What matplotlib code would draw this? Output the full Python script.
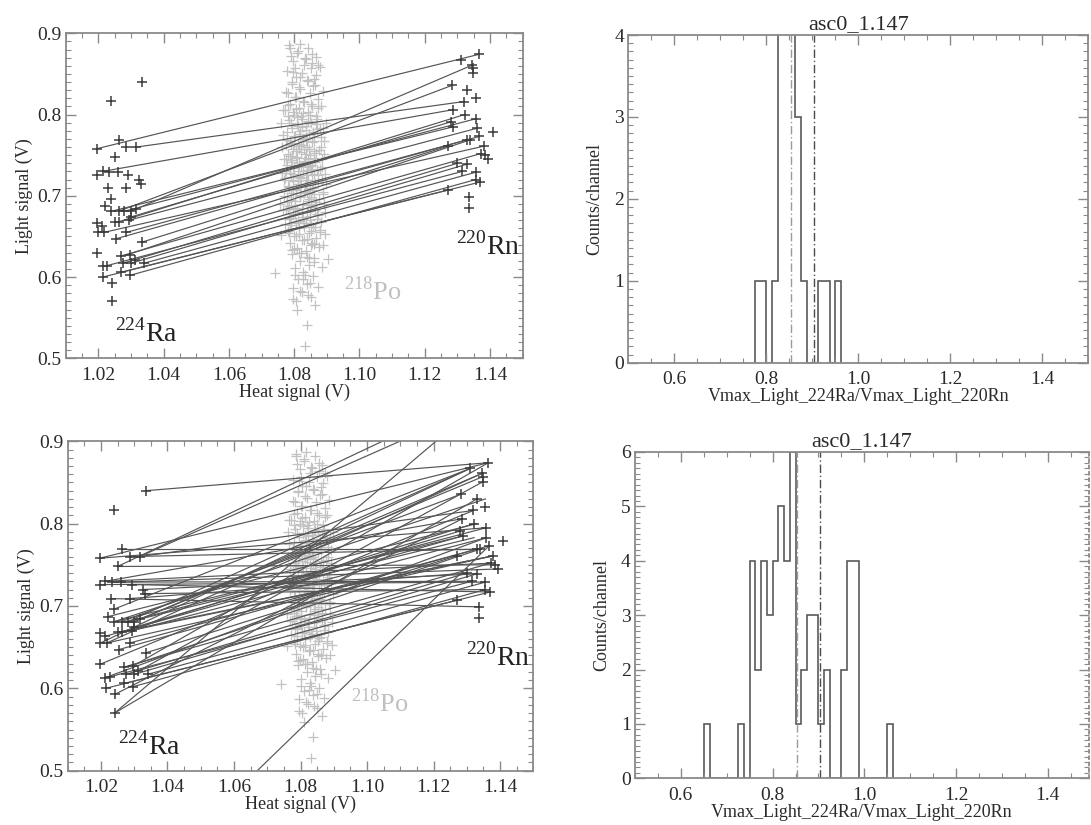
import numpy as np
import matplotlib
matplotlib.use("Agg")
import matplotlib.pyplot as plt
from matplotlib.ticker import MultipleLocator, FormatStrFormatter

plt.rcParams['font.family'] = ['Liberation Serif', 'DejaVu Serif']
plt.rcParams['mathtext.fontset'] = 'custom'
plt.rcParams['mathtext.rm'] = 'Liberation Serif'

# ---------------- data ----------------
# 224Ra events (dark crosses, left)
ra_x = [1.0334, 1.0238, 1.0196, 1.0262, 1.0250, 1.0286, 1.0316, 1.0196, 1.0213, 1.0233,
        1.0261, 1.0292, 1.0230, 1.0286, 1.0326, 1.0332, 1.0238, 1.0220, 1.0240, 1.0262,
        1.0280, 1.0300, 1.0316, 1.0250, 1.0262, 1.0300, 1.0294, 1.0196, 1.0211, 1.0198,
        1.0217, 1.0253, 1.0286, 1.0334, 1.0196, 1.0270, 1.0296, 1.0275, 1.0300, 1.0312,
        1.0340, 1.0213, 1.0226, 1.0214, 1.0270, 1.0296, 1.0243, 1.0241]
ra_y = [0.840, 0.817, 0.758, 0.769, 0.748, 0.760, 0.760, 0.726, 0.730, 0.729,
        0.729, 0.726, 0.709, 0.709, 0.720, 0.715, 0.696, 0.687, 0.681, 0.681,
        0.681, 0.681, 0.684, 0.668, 0.668, 0.674, 0.670, 0.667, 0.663, 0.655,
        0.655, 0.647, 0.655, 0.643, 0.629, 0.626, 0.627, 0.617, 0.617, 0.621,
        0.617, 0.613, 0.614, 0.600, 0.606, 0.602, 0.593, 0.570]

# 220Rn events (dark crosses, right)
rn_x = [1.1365, 1.1310, 1.1346, 1.1348, 1.1349, 1.1284, 1.1330, 1.1356, 1.1320, 1.1287,
        1.1322, 1.1280, 1.1288, 1.1358, 1.1359, 1.1410, 1.1367, 1.1330, 1.1340, 1.1380,
        1.1385, 1.1395, 1.1372, 1.1270, 1.1300, 1.1330, 1.1315, 1.1356, 1.1270, 1.1356,
        1.1370, 1.1337, 1.1337]
rn_y = [0.874, 0.867, 0.861, 0.857, 0.851, 0.836, 0.830, 0.820, 0.816, 0.806,
        0.800, 0.791, 0.785, 0.795, 0.783, 0.779, 0.773, 0.769, 0.769, 0.761,
        0.750, 0.745, 0.752, 0.761, 0.740, 0.739, 0.730, 0.729, 0.707, 0.720,
        0.717, 0.699, 0.685]

# 218Po events (light grey crosses, centre)
po_x = [1.0785, 1.0812, 1.0843, 1.0866, 1.0797, 1.0829, 1.0851, 1.0778, 1.0868, 1.0806,
        1.0838, 1.0792, 1.0859, 1.0819, 1.0776, 1.0847, 1.0803, 1.0874, 1.0831, 1.0788,
        1.0856, 1.0815, 1.0772, 1.0841, 1.0798, 1.0867, 1.0824, 1.0783, 1.0852, 1.0809,
        1.0835, 1.0794, 1.0871, 1.0818, 1.0779, 1.0846, 1.0802, 1.0862, 1.0827, 1.0786,
        1.0853, 1.0811, 1.0775, 1.0839, 1.0796, 1.0876, 1.0821, 1.0782, 1.0848, 1.0805,
        1.0832, 1.0791, 1.0864, 1.0816, 1.0777, 1.0843, 1.0800, 1.0869, 1.0826, 1.0787,
        1.0855, 1.0813, 1.0773, 1.0838, 1.0795, 1.0872, 1.0822, 1.0781, 1.0849, 1.0807,
        1.0834, 1.0790, 1.0861, 1.0817, 1.0779, 1.0845, 1.0801, 1.0866, 1.0828, 1.0785,
        1.0851, 1.0810, 1.0774, 1.0840, 1.0797, 1.0873, 1.0823, 1.0783, 1.0847, 1.0804,
        1.0831, 1.0789, 1.0863, 1.0815, 1.0780, 1.0844, 1.0799, 1.0868, 1.0825, 1.0786,
        1.0852, 1.0808, 1.0836, 1.0793, 1.0860, 1.0819, 1.0845, 1.0801, 1.0828, 1.0857,
        1.0812, 1.0839, 1.0796, 1.0824, 1.0850, 1.0806, 1.0742, 1.0905, 1.0838, 1.0833,
        1.0808, 1.0842, 1.0823, 1.0858, 1.0799, 1.0836, 1.0815, 1.0861, 1.0793, 1.0829,
        1.0847, 1.0811, 1.0872, 1.0795, 1.0833, 1.0856, 1.0818, 1.0789, 1.0842, 1.0865,
        1.0803, 1.0826, 1.0851, 1.0788, 1.0814, 1.0839, 1.0862, 1.0798, 1.0821, 1.0846,
        1.0817, 1.0855, 1.0789, 1.0836, 1.0873, 1.0801, 1.0825, 1.0861, 1.0792, 1.0814,
        1.0883, 1.0887, 1.0885, 1.0882, 1.0879, 1.0768, 1.0770, 1.0765, 1.0888, 1.0890,
        1.0884, 1.0891, 1.0878, 1.0769, 1.0772, 1.0766, 1.0881, 1.0895, 1.0758, 1.0897,
        1.0830, 1.0820, 1.0835, 1.0812, 1.0843, 1.0806, 1.0827, 1.0850, 1.0818, 1.0840,
        1.0781, 1.0804, 1.0826, 1.0849, 1.0871, 1.0790, 1.0813, 1.0837, 1.0859, 1.0882,
        1.0777, 1.0800, 1.0822, 1.0845, 1.0868, 1.0786, 1.0809, 1.0833, 1.0856, 1.0879,
        1.0774, 1.0797, 1.0819, 1.0842, 1.0864, 1.0783, 1.0806, 1.0829, 1.0852, 1.0875,
        1.0779, 1.0802, 1.0825, 1.0848, 1.0870, 1.0788, 1.0811, 1.0835, 1.0857, 1.0880,
        1.0784, 1.0807, 1.0830, 1.0853, 1.0876, 1.0792, 1.0815, 1.0838, 1.0861, 1.0884,
        1.0803, 1.0826, 1.0849, 1.0872, 1.0818, 1.0841, 1.0795, 1.0864, 1.0810, 1.0833,
        1.0787, 1.0810, 1.0833, 1.0856, 1.0879, 1.0795, 1.0818, 1.0841, 1.0864, 1.0887,
        1.0782, 1.0805, 1.0828, 1.0851, 1.0874, 1.0797, 1.0820, 1.0843, 1.0866, 1.0889,
        1.0816, 1.0839, 1.0862, 1.0791, 1.0814, 1.0837, 1.0860, 1.0793, 1.0816, 1.0839,
        1.0862, 1.0789, 1.0812, 1.0835, 1.0858, 1.0795, 1.0818, 1.0841, 1.0864, 1.0801,
        1.0824, 1.0847, 1.0870, 1.0806, 1.0829, 1.0852, 1.0780, 1.0776, 1.0781, 1.0886,
        1.0892, 1.0893, 1.0889, 1.0762, 1.0764, 1.0767, 1.0894, 1.0761, 1.0898, 1.0760]
po_y = [0.885, 0.878, 0.882, 0.871, 0.866, 0.861, 0.857, 0.853, 0.849, 0.846,
        0.842, 0.838, 0.835, 0.831, 0.828, 0.826, 0.822, 0.819, 0.816, 0.813,
        0.811, 0.808, 0.805, 0.803, 0.800, 0.798, 0.795, 0.793, 0.790, 0.788,
        0.786, 0.784, 0.782, 0.780, 0.778, 0.776, 0.774, 0.772, 0.770, 0.768,
        0.766, 0.764, 0.762, 0.760, 0.758, 0.756, 0.754, 0.752, 0.750, 0.748,
        0.746, 0.744, 0.742, 0.740, 0.738, 0.736, 0.734, 0.732, 0.730, 0.728,
        0.726, 0.724, 0.722, 0.720, 0.718, 0.716, 0.714, 0.712, 0.710, 0.708,
        0.706, 0.704, 0.702, 0.700, 0.698, 0.696, 0.694, 0.692, 0.690, 0.688,
        0.686, 0.684, 0.682, 0.680, 0.678, 0.676, 0.674, 0.672, 0.670, 0.668,
        0.666, 0.664, 0.662, 0.660, 0.657, 0.654, 0.651, 0.648, 0.645, 0.642,
        0.639, 0.636, 0.632, 0.628, 0.624, 0.620, 0.615, 0.611, 0.606, 0.601,
        0.597, 0.592, 0.587, 0.581, 0.576, 0.570, 0.605, 0.622, 0.541, 0.515,
        0.797, 0.791, 0.785, 0.779, 0.773, 0.767, 0.761, 0.755, 0.749, 0.743,
        0.737, 0.731, 0.725, 0.719, 0.713, 0.707, 0.701, 0.695, 0.689, 0.683,
        0.677, 0.671, 0.665, 0.659, 0.653, 0.647, 0.641, 0.635, 0.629, 0.623,
        0.887, 0.874, 0.872, 0.868, 0.861, 0.857, 0.851, 0.844, 0.840, 0.834,
        0.668, 0.702, 0.735, 0.760, 0.655, 0.745, 0.700, 0.775, 0.640, 0.690,
        0.720, 0.752, 0.783, 0.720, 0.665, 0.805, 0.810, 0.680, 0.690, 0.715,
        0.758, 0.735, 0.725, 0.715, 0.745, 0.755, 0.768, 0.733, 0.722, 0.705,
        0.812, 0.807, 0.802, 0.799, 0.794, 0.789, 0.786, 0.781, 0.777, 0.772,
        0.769, 0.765, 0.762, 0.757, 0.753, 0.749, 0.746, 0.741, 0.738, 0.733,
        0.731, 0.727, 0.723, 0.719, 0.716, 0.711, 0.707, 0.703, 0.699, 0.696,
        0.692, 0.689, 0.685, 0.681, 0.677, 0.673, 0.669, 0.666, 0.661, 0.658,
        0.654, 0.650, 0.646, 0.642, 0.637, 0.633, 0.629, 0.625, 0.618, 0.612,
        0.603, 0.598, 0.593, 0.588, 0.583, 0.578, 0.573, 0.566, 0.559, 0.603,
        0.882, 0.876, 0.869, 0.864, 0.858, 0.852, 0.846, 0.841, 0.836, 0.829,
        0.826, 0.821, 0.817, 0.813, 0.808, 0.803, 0.798, 0.792, 0.788, 0.784,
        0.776, 0.771, 0.768, 0.764, 0.757, 0.752, 0.747, 0.742, 0.737, 0.732,
        0.727, 0.723, 0.718, 0.713, 0.709, 0.704, 0.699, 0.694, 0.690, 0.685,
        0.680, 0.675, 0.671, 0.667, 0.662, 0.657, 0.684, 0.745, 0.798, 0.745,
        0.768, 0.727, 0.705, 0.760, 0.728, 0.682, 0.653, 0.790, 0.790, 0.652]

# Ra -> Rn connecting segments, top panel (x0, y0, x1, y1)
top_x0 = [1.0196, 1.0316, 1.0213, 1.0300, 1.0240, 1.0280, 1.0262, 1.0294, 1.0300, 1.0286,
          1.0253, 1.0334, 1.0286, 1.0270, 1.0275, 1.0300, 1.0226, 1.0340, 1.0296,
          1.0214, 1.0270, 1.0262, 1.0217]
top_y0 = [0.758, 0.760, 0.730, 0.681, 0.681, 0.681, 0.668, 0.670, 0.674, 0.655,
          0.647, 0.643, 0.627, 0.626, 0.617, 0.617, 0.614, 0.617, 0.602,
          0.600, 0.606, 0.681, 0.655]
top_x1 = [1.1365, 1.1320, 1.1287, 1.1346, 1.1288, 1.1358, 1.1322, 1.1359, 1.1280, 1.1367,
          1.1330, 1.1270, 1.1340, 1.1372, 1.1300, 1.1330, 1.1315, 1.1356, 1.1356,
          1.1270, 1.1370, 1.1284, 1.1380]
top_y1 = [0.874, 0.816, 0.806, 0.861, 0.785, 0.795, 0.800, 0.783, 0.791, 0.773,
          0.769, 0.761, 0.769, 0.752, 0.740, 0.739, 0.730, 0.729, 0.720,
          0.707, 0.717, 0.836, 0.761]

# additional segments shown only in the bottom panel
extra_x0 = [1.0334, 1.0316, 1.0550, 1.0241, 1.0196, 1.0262, 1.0250, 1.0286, 1.0196, 1.0233,
            1.0261, 1.0292, 1.0230, 1.0286, 1.0326, 1.0332, 1.0220, 1.0240, 1.0316, 1.0250,
            1.0211, 1.0198, 1.0217, 1.0196, 1.0296, 1.0312, 1.0213, 1.0243, 1.0241, 1.0300,
            1.0280, 1.0262, 1.0213, 1.0238, 1.0250]
extra_y0 = [0.840, 0.760, 0.453, 0.570, 0.758, 0.769, 0.748, 0.760, 0.726, 0.729,
            0.729, 0.726, 0.709, 0.709, 0.720, 0.715, 0.687, 0.681, 0.684, 0.668,
            0.663, 0.655, 0.655, 0.629, 0.627, 0.621, 0.613, 0.593, 0.570, 0.681,
            0.681, 0.668, 0.730, 0.696, 0.748]
extra_x1 = [1.1365, 1.1350, 1.1367, 1.1500, 1.1358, 1.1340, 1.1385, 1.1330, 1.1356, 1.1315,
            1.1395, 1.1370, 1.1337, 1.1300, 1.1330, 1.1356, 1.1330, 1.1356, 1.1322, 1.1380,
            1.1288, 1.1310, 1.1346, 1.1320, 1.1365, 1.1349, 1.1359, 1.1287, 1.1330, 1.1348,
            1.1310, 1.1380, 1.1372, 1.1310, 1.1360]
extra_y1 = [0.874, 0.945, 0.773, 1.000, 0.795, 0.769, 0.750, 0.769, 0.729, 0.730,
            0.745, 0.717, 0.699, 0.740, 0.739, 0.720, 0.800, 0.830, 0.783, 0.761,
            0.785, 0.867, 0.861, 0.816, 0.874, 0.851, 0.783, 0.806, 0.830, 0.857,
            0.867, 0.761, 0.752, 0.867, 0.960]

# histogram of light ratio (bin width 0.0125)
top_hist_start = 0.775
top_hist_counts = [1, 1, 0, 1, 5, 6, 5, 3, 1, 0, 0, 1, 1, 0, 1]
bot_hist_start = 0.65
bot_hist_counts = [1, 0, 0, 0, 0, 0, 1, 0, 4, 2, 4, 3, 4, 5, 4, 6,
                   1, 2, 3, 3, 1, 2, 0, 0, 2, 4, 4, 0, 0, 0, 0, 0, 1]
hist_bin = 0.0125
ratio_lines = [0.853, 0.903]

# ---------------- style ----------------
SPINE = '#8a8a8a'
TXT = '#2a2a2a'
DARK = '#3a3a3a'
LINE = '#555555'
PO = '#c2c2c2'

W, H = 1091, 825
fig = plt.figure(figsize=(W / 100, H / 100), dpi=100)


def add_ax(l, t, r, b):
    return fig.add_axes([l / W, 1 - b / H, (r - l) / W, (b - t) / H])


def style(ax, xmaj, xmin, ymaj, ymin, xfmt, yfmt):
    for s in ax.spines.values():
        s.set_color(SPINE)
        s.set_linewidth(1.3)
    ax.xaxis.set_major_locator(MultipleLocator(xmaj))
    ax.xaxis.set_minor_locator(MultipleLocator(xmin))
    ax.yaxis.set_major_locator(MultipleLocator(ymaj))
    ax.yaxis.set_minor_locator(MultipleLocator(ymin))
    ax.xaxis.set_major_formatter(FormatStrFormatter(xfmt))
    ax.yaxis.set_major_formatter(FormatStrFormatter(yfmt))
    ax.tick_params(which='both', direction='in', top=True, right=True,
                   color=SPINE, labelcolor=TXT, labelsize=14)
    ax.tick_params(which='major', length=7, width=1.0)
    ax.tick_params(axis='x', which='major', pad=6)
    ax.tick_params(axis='y', which='major', pad=3)
    ax.tick_params(which='minor', length=3.5, width=0.8)


def scatter_panel(ax, lx0, ly0, lx1, ly1):
    ax.set_xlim(1.01, 1.15)
    ax.set_ylim(0.5, 0.9)
    ax.plot(po_x, po_y, '+', color=PO, ms=7, mew=0.9, zorder=1)
    for a, b, c, d in zip(lx0, ly0, lx1, ly1):
        ax.plot([a, c], [b, d], '-', color=LINE, lw=0.85, zorder=2)
    ax.plot(ra_x, ra_y, '+', color=DARK, ms=7.5, mew=1.1, zorder=3)
    ax.plot(rn_x, rn_y, '+', color=DARK, ms=7.5, mew=1.1, zorder=3)
    style(ax, 0.02, 0.005, 0.1, 0.01, '%.2f', '%.1f')
    ax.set_xlabel('Heat signal (V)', fontsize=13, color=TXT, labelpad=0)
    ax.set_ylabel('Light signal (V)', fontsize=13, color=TXT, labelpad=3)
    ax.text(1.0252, 0.520, r'$^{224}$Ra', fontsize=20, color='#222222')
    ax.text(1.1297, 0.628, r'$^{220}$Rn', fontsize=20, color='#222222')
    ax.text(1.0952, 0.572, r'$^{218}$Po', fontsize=19, color='#c0c0c0')


def hist_panel(ax, start, counts, xmax, ymax):
    edges = start + hist_bin * np.arange(len(counts) + 1)
    ax.set_xlim(0.5, xmax)
    ax.set_ylim(0, ymax)
    ax.stairs(counts, edges, color='#5a5a5a', lw=1.2, baseline=0)
    for k, v in enumerate(ratio_lines):
        ax.axvline(v, color='#9a9a9a' if k == 0 else '#4a4a4a', lw=1.0,
                   linestyle=(0, (6, 2, 1, 2)))
    style(ax, 0.2, 0.05, 1, 0.1, '%.1f', '%d')
    ax.set_xlabel('Vmax_Light_224Ra/Vmax_Light_220Rn', fontsize=13, color=TXT, labelpad=0)
    ax.set_ylabel('Counts/channel', fontsize=13, color=TXT, labelpad=8)
    ax.set_title('asc0_1.147', fontsize=16, color=TXT, pad=4)


ax1 = add_ax(65.7, 33.3, 522.7, 358.3)
scatter_panel(ax1, top_x0, top_y0, top_x1, top_y1)

ax3 = add_ax(67.7, 441.3, 533.3, 770.7)
scatter_panel(ax3, top_x0 + extra_x0, top_y0 + extra_y0, top_x1 + extra_x1, top_y1 + extra_y1)

ax2 = add_ax(628.3, 35, 1088.3, 362.7)
hist_panel(ax2, top_hist_start, top_hist_counts, 1.5, 4)

ax4 = add_ax(635, 452, 1089, 778.3)
hist_panel(ax4, bot_hist_start, bot_hist_counts, 1.49, 6)
ax4.spines['right'].set_linestyle((0, (1.5, 2)))

fig.savefig('out.png', dpi=100)
